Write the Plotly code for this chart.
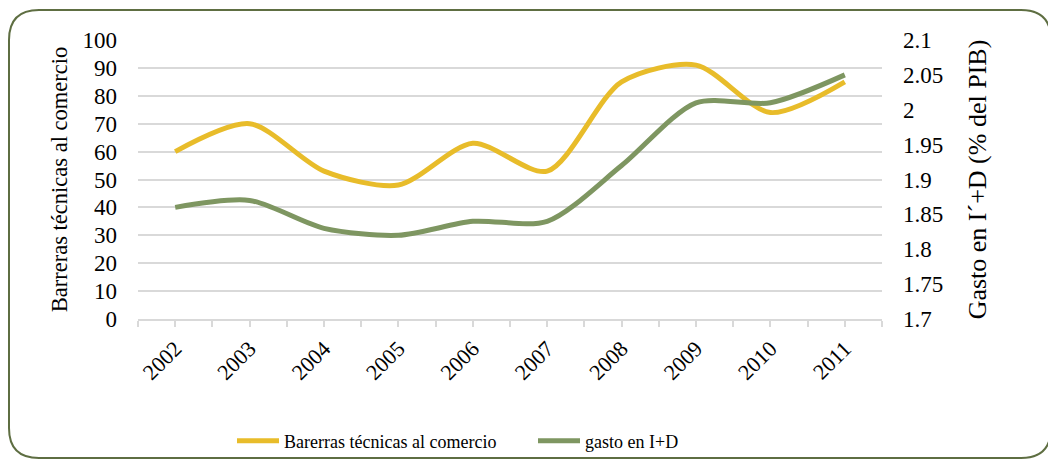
import plotly.graph_objects as go

years = [2002, 2003, 2004, 2005, 2006, 2007, 2008, 2009, 2010, 2011]
year_labels = [str(y) for y in years]
barreras = [60, 70, 53, 48, 63, 53, 85, 91, 74, 85]
gasto = [1.86, 1.87, 1.83, 1.82, 1.84, 1.84, 1.92, 2.01, 2.01, 2.05]

W, H = 1056, 459
L, R, T, B = 130, 182, 32, 148
PW, PH = W - L - R, H - T - B

def px(x):
    return (x - L) / PW

def py(y):
    return (H - B - y) / PH

YELLOW = "#E8BC2A"
GREEN = "#7E9661"
FONT = "Liberation Serif, Times New Roman, serif"

fig = go.Figure()
fig.add_trace(go.Scatter(x=years, y=barreras, name="Barerras técnicas al comercio",
                         mode="lines", line=dict(color=YELLOW, width=5, shape="spline", smoothing=0.8)))
fig.add_trace(go.Scatter(x=years, y=gasto, name="gasto en I+D", yaxis="y2",
                         mode="lines", line=dict(color=GREEN, width=5, shape="spline", smoothing=0.8)))

# rounded border
x0, x1, y0, y1, r = 1, 1043, 2, 450, 30
path = (f"M {px(x0+r)},{py(y0)} L {px(x1-r)},{py(y0)} "
        f"Q {px(x1)},{py(y0)} {px(x1)},{py(y0+r)} "
        f"L {px(x1)},{py(y1-r)} Q {px(x1)},{py(y1)} {px(x1-r)},{py(y1)} "
        f"L {px(x0+r)},{py(y1)} Q {px(x0)},{py(y1)} {px(x0)},{py(y1-r)} "
        f"L {px(x0)},{py(y0+r)} Q {px(x0)},{py(y0)} {px(x0+r)},{py(y0)} Z")

fig.update_layout(
    width=W, height=H,
    margin=dict(l=L, r=R, t=T, b=B, autoexpand=False),
    paper_bgcolor="white", plot_bgcolor="white",
    font=dict(family=FONT, size=22, color="black"),
    shapes=[dict(type="path", path=path, xref="paper", yref="paper",
                 line=dict(color="#5E6E42", width=2), layer="below")],
    xaxis=dict(range=[2001.5, 2011.5], tickvals=years, ticktext=year_labels,
               tickangle=-45, showgrid=False, zeroline=False,
               showline=True, linecolor="#D9D9D9", linewidth=2,
               ticks="outside", ticklen=6, tickcolor="#D9D9D9", tickwidth=2,
               minor=dict(dtick=0.5, tick0=2001.5, ticks="outside", ticklen=6,
                          tickcolor="#D9D9D9", tickwidth=2, showgrid=False),
               tickfont=dict(size=22)),
    yaxis=dict(range=[0, 100], dtick=10, showgrid=True, gridcolor="#D9D9D9", gridwidth=2,
               zeroline=False, showline=False, ticks="", ticklabelstandoff=20,
               title=dict(text="Barreras técnicas al comercio", font=dict(size=22.5), standoff=8),
               tickfont=dict(size=23)),
    yaxis2=dict(range=[1.7, 2.1], dtick=0.05, overlaying="y", side="right",
                showgrid=False, zeroline=False, showline=False, ticks="", ticklabelstandoff=20,
                tickformat="~g",
                title=dict(text="Gasto en I´+D (% del PIB)", font=dict(size=26), standoff=25),
                tickfont=dict(size=23)),
    legend=dict(orientation="h", x=px(224), xanchor="left", y=py(433), yanchor="middle",
                font=dict(size=18), entrywidth=244, entrywidthmode="pixels",
                itemwidth=42, bgcolor="rgba(0,0,0,0)"),
)

fig.write_html("out.html")
